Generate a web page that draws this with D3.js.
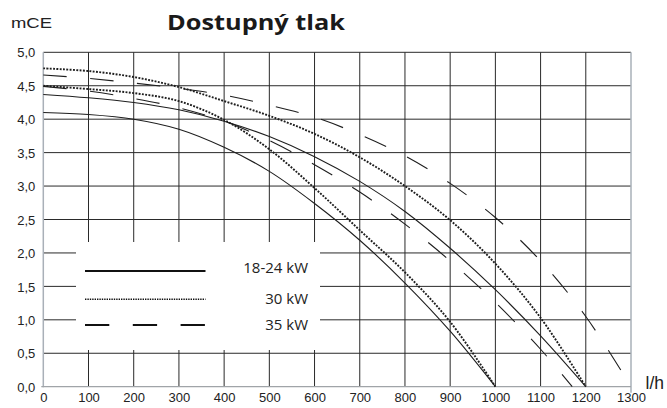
<!DOCTYPE html>
<html>
<head>
<meta charset="utf-8">
<script src="https://cdn.jsdelivr.net/npm/d3@7/dist/d3.min.js"></script>
<style>
  html, body { margin: 0; padding: 0; background: #fff; }
  svg { display: block; }
</style>
</head>
<body>
<svg id="chart" width="667" height="408"></svg>
<script>
// Pump curves: available head (mCE) against flow (l/h)
const flowTicks = [0, 100, 200, 300, 400, 500, 600, 700, 800, 900, 1000, 1100, 1200, 1300];
const headTicks = [0, 0.5, 1, 1.5, 2, 2.5, 3, 3.5, 4, 4.5, 5];

// 18-24 kW (solid)
const flowSolidLow = [0, 100, 200, 300, 400, 500, 600, 700, 800, 900, 1000];
const headSolidLow = [4.10, 4.07, 4.00, 3.85, 3.58, 3.22, 2.74, 2.19, 1.55, 0.83, 0];
const flowSolidHigh = [0, 100, 200, 300, 400, 500, 600, 700, 800, 900, 1000, 1100, 1200];
const headSolidHigh = [4.37, 4.32, 4.25, 4.14, 3.97, 3.74, 3.44, 3.07, 2.62, 2.07, 1.45, 0.76, 0];

// 30 kW (dotted)
const flowDotLow = [0, 100, 200, 300, 400, 500, 600, 700, 800, 900, 1000];
const headDotLow = [4.50, 4.45, 4.39, 4.27, 3.99, 3.55, 2.97, 2.34, 1.71, 0.97, 0];
const flowDotHigh = [0, 100, 200, 300, 400, 500, 600, 700, 800, 900, 1000, 1100, 1200];
const headDotHigh = [4.76, 4.72, 4.63, 4.48, 4.27, 4.05, 3.78, 3.43, 3.00, 2.49, 1.84, 1.03, 0];

// 35 kW (dashed)
const flowDashLow = [0, 100, 200, 300, 400, 500, 600, 700, 800, 900, 1000, 1100, 1170];
const headDashLow = [4.49, 4.42, 4.31, 4.17, 3.97, 3.68, 3.32, 2.91, 2.43, 1.88, 1.26, 0.56, 0];
const flowDashHigh = [0, 100, 200, 300, 400, 500, 600, 700, 800, 900, 1000, 1100, 1200, 1300];
const headDashHigh = [4.66, 4.61, 4.54, 4.46, 4.36, 4.21, 4.03, 3.77, 3.45, 3.04, 2.53, 1.88, 1.05, 0];

const legendLabels = ["18-24 kW", "30 kW", "35 kW"];
const titleText = "Dostupný tlak";
const yUnit = "mCE";
const xUnit = "l/h";

const svg = d3.select("#chart");

const x = d3.scaleLinear().domain([0, 1300]).range([43.3, 631]);
const y = d3.scaleLinear().domain([0, 5]).range([386.7, 52.3]);

const fmt = v => d3.format(".1f")(v).replace(".", ",");

// grid
const grid = svg.append("g");
grid.selectAll("line.h").data(headTicks.filter(d => d > 0)).join("line")
  .attr("x1", x(0)).attr("x2", x(1300))
  .attr("y1", d => y(d)).attr("y2", d => y(d))
  .attr("stroke", "#2a2a2a").attr("stroke-width", 1);
grid.selectAll("line.v").data(flowTicks.filter(d => d > 0 && d < 1300)).join("line")
  .attr("x1", d => x(d)).attr("x2", d => x(d))
  .attr("y1", y(0)).attr("y2", y(5))
  .attr("stroke", "#2a2a2a").attr("stroke-width", 1);

// frame: light left/bottom/right rules
svg.append("line").attr("x1", x(0)).attr("x2", x(0)).attr("y1", y(5)).attr("y2", y(0) + 0.5)
  .attr("stroke", "#a9b0b8").attr("stroke-width", 1.5);
svg.append("line").attr("x1", x(1300)).attr("x2", x(1300)).attr("y1", y(5)).attr("y2", y(0) + 6)
  .attr("stroke", "#a9b0b8").attr("stroke-width", 1.5);
svg.append("line").attr("x1", x(0) - 2).attr("x2", x(1300)).attr("y1", y(0)).attr("y2", y(0))
  .attr("stroke", "#a0a4a8").attr("stroke-width", 1.3);

// tick labels through d3 axes (domain and tick lines hidden)
const yAxis = svg.append("g").attr("transform", `translate(${x(0) - 8},0)`)
  .call(d3.axisLeft(y).tickValues(headTicks).tickFormat(fmt).tickSize(0).tickPadding(0));
yAxis.select(".domain").remove();
yAxis.selectAll("text").attr("font-family", "'Liberation Sans', Arial, sans-serif")
  .attr("font-size", 13).attr("fill", "#222").attr("dy", "0.36em");

const xAxis = svg.append("g").attr("transform", `translate(0,${y(0) + 6})`)
  .call(d3.axisBottom(x).tickValues(flowTicks).tickFormat(d3.format("d")).tickSize(0).tickPadding(0));
xAxis.select(".domain").remove();
xAxis.selectAll("text").attr("font-family", "'Liberation Sans', Arial, sans-serif")
  .attr("font-size", 13).attr("fill", "#222").attr("dy", "0.71em");

// legend panel masks the grid
const lg = { x0: 76, x1: 320, y0: 242, y1: 350 };
svg.append("rect").attr("x", lg.x0).attr("y", lg.y0)
  .attr("width", lg.x1 - lg.x0).attr("height", lg.y1 - lg.y0).attr("fill", "#fff");

// curves
const line = d3.line().x(d => x(d[0])).y(d => y(d[1])).curve(d3.curveCatmullRom.alpha(0.5));
const pair = (fx, hy) => fx.map((f, i) => [f, hy[i]]);

const styles = {
  solid: { width: 1.1, dash: null, color: "#1e1e1e" },
  dot: { width: 1.9, dash: "1.9,1.4", color: "#1e1e1e" },
  dash: { width: 1.1, dash: "23.5,23.5", color: "#1e1e1e" }
};

const curves = [
  { pts: pair(flowSolidLow, headSolidLow), s: styles.solid },
  { pts: pair(flowSolidHigh, headSolidHigh), s: styles.solid },
  { pts: pair(flowDotLow, headDotLow), s: styles.dot },
  { pts: pair(flowDotHigh, headDotHigh), s: styles.dot },
  { pts: pair(flowDashLow, headDashLow), s: styles.dash },
  { pts: pair(flowDashHigh, headDashHigh), s: styles.dash }
];

svg.append("g").selectAll("path").data(curves).join("path")
  .attr("d", d => line(d.pts))
  .attr("fill", "none")
  .attr("stroke", d => d.s.color)
  .attr("stroke-width", d => d.s.width)
  .attr("stroke-dasharray", d => d.s.dash);

// legend
const legendRows = [
  { label: legendLabels[0], ly: 271, ty: 273, w: 1.8, dash: null },
  { label: legendLabels[1], ly: 299.3, ty: 304, w: 1.4, dash: "1.4,1" },
  { label: legendLabels[2], ly: 325, ty: 330, w: 1.8, dash: "24.3,23.5" }
];
const lgG = svg.append("g");
lgG.selectAll("line").data(legendRows).join("line")
  .attr("x1", 85).attr("x2", 205.5)
  .attr("y1", d => d.ly).attr("y2", d => d.ly)
  .attr("stroke", "#111").attr("stroke-width", d => d.w)
  .attr("stroke-dasharray", d => d.dash);
lgG.selectAll("text").data(legendRows).join("text")
  .attr("x", 308).attr("y", d => d.ty)
  .attr("text-anchor", "end")
  .attr("font-family", "'Open Sans', 'Noto Sans', sans-serif")
  .attr("font-size", 15).attr("fill", "#222")
  .text(d => d.label);

// title and units
svg.append("text").attr("x", 167).attr("y", 29.5)
  .attr("font-family", "'Open Sans', 'Noto Sans', sans-serif")
  .attr("font-weight", "bold").attr("font-size", 22).attr("fill", "#1a1a1a")
  .attr("textLength", 178).attr("lengthAdjust", "spacingAndGlyphs")
  .text(titleText);
svg.append("text").attr("x", 11).attr("y", 27.5)
  .attr("font-family", "'Liberation Sans', Arial, sans-serif")
  .attr("font-size", 14.5).attr("fill", "#222")
  .attr("textLength", 41).attr("lengthAdjust", "spacingAndGlyphs")
  .text(yUnit);
svg.append("text").attr("x", 645.5).attr("y", 388.5)
  .attr("font-family", "'Liberation Sans', Arial, sans-serif")
  .attr("font-size", 17.5).attr("fill", "#222")
  .text(xUnit);
</script>
</body>
</html>
